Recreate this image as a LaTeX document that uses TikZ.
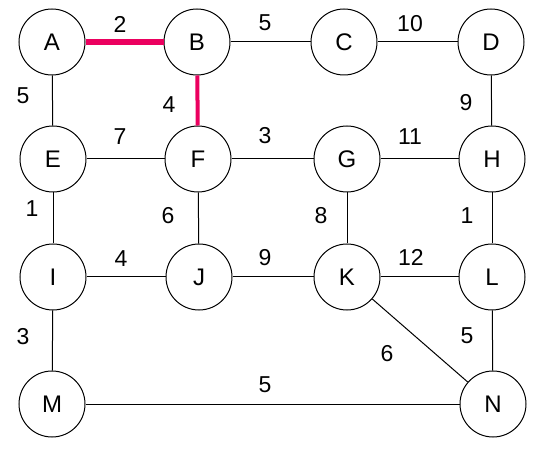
\documentclass[tikz,border=0pt]{standalone}
\usepackage{fontspec}
\setmainfont{Liberation Sans}
\definecolor{hot}{RGB}{235,0,95}
\begin{document}
\begin{tikzpicture}[x=1pt,y=-1pt,
  vtx/.style={circle,draw,line width=1pt,minimum size=66pt,inner sep=0pt,font=\fontsize{24}{24}\selectfont},
  wt/.style={font=\fontsize{23}{23}\selectfont,inner sep=0pt},
  edge/.style={line width=1pt},
  hl/.style={hot,line width=5.5pt}]
\useasboundingbox (0,0) rectangle (536,449);
\node[vtx] (A) at (52,42) {A};
\node[vtx] (B) at (197,42) {B};
\node[vtx] (C) at (344,42) {C};
\node[vtx] (D) at (491,42) {D};
\node[vtx] (E) at (53,159) {E};
\node[vtx] (F) at (198,159) {F};
\node[vtx] (G) at (347,159) {G};
\node[vtx] (H) at (492,159) {H};
\node[vtx] (I) at (53,277) {I};
\node[vtx] (J) at (199,277) {J};
\node[vtx] (K) at (347,277) {K};
\node[vtx] (L) at (492,277) {L};
\node[vtx] (M) at (52,404) {M};
\node[vtx] (N) at (493,404) {N};
\draw[hl] (A) -- (B);
\draw[hot,line width=4pt] (B) -- (F);
\draw[edge] (B) -- (C);
\draw[edge] (C) -- (D);
\draw[edge] (A) -- (E);
\draw[edge] (D) -- (H);
\draw[edge] (E) -- (F);
\draw[edge] (F) -- (G);
\draw[edge] (G) -- (H);
\draw[edge] (E) -- (I);
\draw[edge] (F) -- (J);
\draw[edge] (G) -- (K);
\draw[edge] (H) -- (L);
\draw[edge] (I) -- (J);
\draw[edge] (J) -- (K);
\draw[edge] (K) -- (L);
\draw[edge] (I) -- (M);
\draw[edge] (K) -- (N);
\draw[edge] (L) -- (N);
\draw[edge] (M) -- (N);
\node[wt] (wAB) at (120,24) {2};
\node[wt] (wBC) at (265,23) {5};
\node[wt] (wCD) at (410,24) {10};
\node[wt] (wAE) at (23,96) {5};
\node[wt] (wBF) at (169,105) {4};
\node[wt] (wDH) at (466,103) {9};
\node[wt] (wEF) at (120,137) {7};
\node[wt] (wFG) at (265,136) {3};
\node[wt] (wGH) at (410,137) {11};
\node[wt] (wEI) at (32,209) {1};
\node[wt] (wFJ) at (168,216) {6};
\node[wt] (wGK) at (321,216) {8};
\node[wt] (wHL) at (467,216) {1};
\node[wt] (wIJ) at (121,259) {4};
\node[wt] (wJK) at (265,258) {9};
\node[wt] (wKL) at (411,257) {12};
\node[wt] (wIM) at (23,337) {3};
\node[wt] (wKN) at (387,354) {6};
\node[wt] (wLN) at (467,336) {5};
\node[wt] (wMN) at (265,385) {5};
\end{tikzpicture}
\end{document}
